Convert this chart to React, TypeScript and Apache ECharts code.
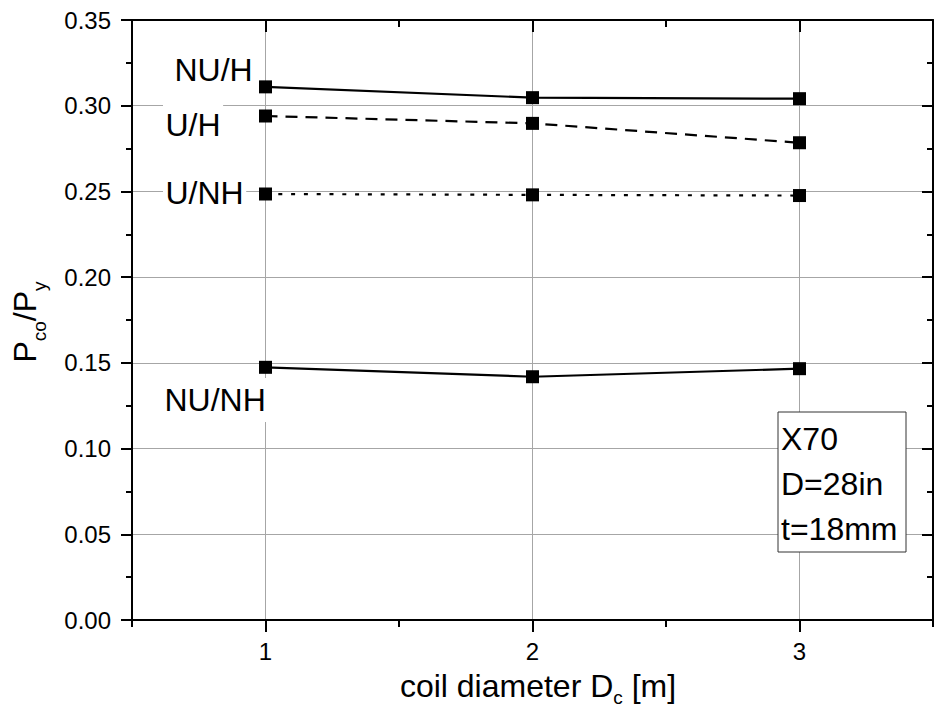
import React, { useEffect, useRef } from 'react';
import * as echarts from 'echarts';

// ---- data ----
const X_VALUES = [1, 2, 3];
const X_TICK_LABELS = ['', '1', '', '2', '', '3', ''];
const SERIES_NAMES = ['NU/H', 'U/H', 'U/NH', 'NU/NH'];
const NU_H = [0.311, 0.3047, 0.3041];
const U_H = [0.294, 0.2897, 0.2784];
const U_NH = [0.2485, 0.248, 0.2476];
const NU_NH = [0.1474, 0.1419, 0.1466];
const Y_MIN = 0;
const Y_MAX = 0.35;
const Y_STEP = 0.05;
const X_MIN = 0.5;
const X_MAX = 3.5;
const INFO_LINES = ['X70', 'D=28in', 't=18mm'];
const X_TITLE = ['coil diameter D', 'c', ' [m]'];
const Y_TITLE = ['P', 'co', '/P', 'y'];

const FONT = '"Liberation Sans", Arial, Helvetica, sans-serif';
const GRID_COLOR = '#a6a6a6';

function measure(text: string, size: number): number {
  const ctx = document.createElement('canvas').getContext('2d');
  if (!ctx) return text.length * size * 0.55;
  ctx.font = `${size}px ${FONT}`;
  return ctx.measureText(text).width;
}

function txt(text: string, x: number, y: number, size: number, z = 30): any {
  return {
    type: 'text',
    x,
    y,
    z,
    silent: true,
    style: {
      text,
      fontSize: size,
      fontFamily: FONT,
      fill: '#000',
      align: 'left',
      verticalAlign: 'middle',
      textAlign: 'left',
      textVerticalAlign: 'middle',
    },
  };
}

// pieces of a title with subscripts, laid along local x; baseline at local y=0
function titlePieces(pieces: string[], main: number, sub: number, subDrop: number): any[] {
  const sizes = pieces.map((_, i) => (i % 2 === 0 ? main : sub));
  const widths = pieces.map((p, i) => measure(p, sizes[i]));
  const total = widths.reduce((a, b) => a + b, 0);
  let cx = -total / 2;
  const out: any[] = [];
  pieces.forEach((p, i) => {
    const s = sizes[i];
    const base = i % 2 === 0 ? 0 : subDrop;
    out.push(txt(p, cx, base - 0.35 * s, s));
    cx += widths[i];
  });
  return out;
}

const tickFilter = (_i: number, v: string) => v !== '';

export default function App() {
  const ref = useRef<HTMLDivElement>(null);

  useEffect(() => {
    if (!ref.current) return;
    const chart = echarts.init(ref.current, undefined, { renderer: 'svg' });

    const seriesValues = [NU_H, U_H, U_NH, NU_NH];
    const lineTypes: any[] = ['solid', [12, 8], [4, 8.8], 'solid'];

    const series = seriesValues.map((vals, k) => ({
      name: SERIES_NAMES[k],
      type: 'line',
      xAxisIndex: 0,
      yAxisIndex: 0,
      data: X_VALUES.map((x, i) => [x, vals[i]]),
      symbol: 'rect',
      symbolSize: 13,
      itemStyle: { color: '#000' },
      lineStyle: { color: '#000', width: 2.2, type: lineTypes[k] },
      silent: true,
      z: 5,
    }));

    // series name labels (left of first point), with white backing boxes
    const labelPos = [
      { x: 174.5, y: 70 },
      { x: 165.5, y: 125 },
      { x: 165.5, y: 193 },
      { x: 164.5, y: 400 },
    ];
    const labelGraphics: any[] = [];
    SERIES_NAMES.forEach((name, k) => {
      const w = measure(name, 32);
      const p = labelPos[k];
      labelGraphics.push({
        type: 'rect',
        z: 25,
        silent: true,
        shape: { x: p.x - 2.5, y: p.y - 22, width: w + 5, height: 44 },
        style: { fill: '#fff' },
      });
      labelGraphics.push(txt(name, p.x, p.y, 32));
    });

    // info box
    const infoBox: any[] = [
      {
        type: 'rect',
        z: 25,
        silent: true,
        shape: { x: 778, y: 412, width: 128, height: 140 },
        style: { fill: '#fff', stroke: '#333', lineWidth: 1 },
      },
    ];
    const infoY = [438.5, 484, 528.5];
    INFO_LINES.forEach((line, i) => infoBox.push(txt(line, 781, infoY[i], 32)));

    const xTitle = {
      type: 'group',
      x: 538,
      y: 697,
      children: titlePieces(X_TITLE, 32, 19, 7),
    };
    const yTitle = {
      type: 'group',
      x: 36,
      y: 322,
      rotation: Math.PI / 2,
      children: titlePieces(Y_TITLE, 32, 19, 10),
    };

    const axisLineStyle = { color: '#000', width: 2 };

    chart.setOption({
      animation: false,
      grid: { left: 132, right: -8, top: 20, bottom: 87, containLabel: false },
      xAxis: [
        {
          type: 'value',
          position: 'bottom',
          min: X_MIN,
          max: X_MAX,
          interval: 0.5,
          axisLine: { show: true, onZero: false, lineStyle: axisLineStyle },
          axisTick: { show: true, length: 7, lineStyle: axisLineStyle },
          axisLabel: { show: false },
          splitLine: { show: false },
        },
        {
          type: 'category',
          position: 'bottom',
          data: X_TICK_LABELS,
          boundaryGap: false,
          axisLine: { show: false, onZero: false },
          axisTick: { show: true, length: 12, interval: tickFilter, lineStyle: axisLineStyle },
          axisLabel: {
            show: true,
            interval: 0,
            fontSize: 24,
            fontFamily: FONT,
            color: '#000',
            margin: 19,
          },
          splitLine: { show: true, interval: tickFilter, lineStyle: { color: GRID_COLOR, width: 1 } },
        },
        {
          type: 'value',
          position: 'top',
          min: X_MIN,
          max: X_MAX,
          interval: 0.5,
          axisLine: { show: true, onZero: false, lineStyle: axisLineStyle },
          axisTick: { show: true, inside: true, length: 7, lineStyle: axisLineStyle },
          axisLabel: { show: false },
          splitLine: { show: false },
        },
        {
          type: 'category',
          position: 'top',
          data: X_TICK_LABELS,
          boundaryGap: false,
          axisLine: { show: false, onZero: false },
          axisTick: { show: true, inside: true, length: 12, interval: tickFilter, lineStyle: axisLineStyle },
          axisLabel: { show: false },
          splitLine: { show: false },
        },
      ],
      yAxis: [
        {
          type: 'value',
          position: 'left',
          min: Y_MIN,
          max: Y_MAX,
          interval: Y_STEP,
          axisLine: { show: true, onZero: false, lineStyle: axisLineStyle },
          axisTick: { show: true, length: 11, lineStyle: axisLineStyle },
          minorTick: { show: true, splitNumber: 2, length: 6, lineStyle: axisLineStyle },
          axisLabel: {
            show: true,
            fontSize: 24,
            fontFamily: FONT,
            color: '#000',
            margin: 21,
            formatter: (v: number) => v.toFixed(2),
          },
          splitLine: { show: true, lineStyle: { color: GRID_COLOR, width: 1 } },
        },
        {
          type: 'value',
          position: 'right',
          min: Y_MIN,
          max: Y_MAX,
          interval: Y_STEP,
          axisLine: { show: true, onZero: false, lineStyle: axisLineStyle },
          axisTick: { show: true, inside: true, length: 11, lineStyle: axisLineStyle },
          minorTick: { show: true, splitNumber: 2, length: 6, lineStyle: axisLineStyle },
          axisLabel: { show: false },
          splitLine: { show: false },
        },
      ],
      series,
      graphic: [...labelGraphics, ...infoBox, xTitle, yTitle],
    });

    return () => chart.dispose();
  }, []);

  return (
    <div
      ref={ref}
      style={{ position: 'fixed', left: 0, top: 0, width: 936, height: 707, background: '#fff' }}
    />
  );
}
